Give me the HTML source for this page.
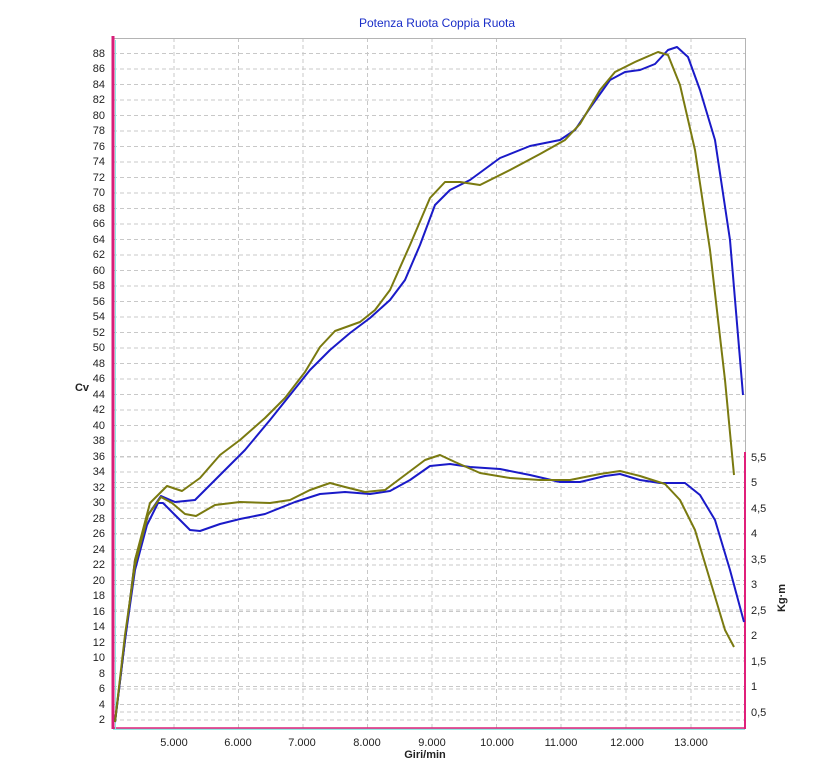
<!DOCTYPE html>
<html><head><style>body{margin:0;background:#fff}</style></head><body>
<svg width="819" height="762" xmlns="http://www.w3.org/2000/svg" font-family="Liberation Sans, sans-serif">
<rect width="819" height="762" fill="#fff"/>
<text x="437" y="27" text-anchor="middle" font-size="12" fill="#1a2ec8">Potenza Ruota Coppia Ruota</text>
<g stroke="#c8c8c8" stroke-dasharray="4,3" stroke-width="1">
<line x1="113" x2="745" y1="53.5" y2="53.5"/><line x1="113" x2="745" y1="69" y2="69"/><line x1="113" x2="745" y1="84.5" y2="84.5"/><line x1="113" x2="745" y1="100" y2="100"/><line x1="113" x2="745" y1="115.5" y2="115.5"/><line x1="113" x2="745" y1="131" y2="131"/><line x1="113" x2="745" y1="146.5" y2="146.5"/><line x1="113" x2="745" y1="162" y2="162"/><line x1="113" x2="745" y1="177.5" y2="177.5"/><line x1="113" x2="745" y1="193" y2="193"/><line x1="113" x2="745" y1="208.5" y2="208.5"/><line x1="113" x2="745" y1="224" y2="224"/><line x1="113" x2="745" y1="239.5" y2="239.5"/><line x1="113" x2="745" y1="255" y2="255"/><line x1="113" x2="745" y1="270.5" y2="270.5"/><line x1="113" x2="745" y1="286" y2="286"/><line x1="113" x2="745" y1="301.5" y2="301.5"/><line x1="113" x2="745" y1="317" y2="317"/><line x1="113" x2="745" y1="332.5" y2="332.5"/><line x1="113" x2="745" y1="348" y2="348"/><line x1="113" x2="745" y1="363.5" y2="363.5"/><line x1="113" x2="745" y1="379" y2="379"/><line x1="113" x2="745" y1="394.5" y2="394.5"/><line x1="113" x2="745" y1="410" y2="410"/><line x1="113" x2="745" y1="425.5" y2="425.5"/><line x1="113" x2="745" y1="441" y2="441"/><line x1="113" x2="745" y1="456.5" y2="456.5"/><line x1="113" x2="745" y1="472" y2="472"/><line x1="113" x2="745" y1="487.5" y2="487.5"/><line x1="113" x2="745" y1="503" y2="503"/><line x1="113" x2="745" y1="518.5" y2="518.5"/><line x1="113" x2="745" y1="534" y2="534"/><line x1="113" x2="745" y1="549.5" y2="549.5"/><line x1="113" x2="745" y1="565" y2="565"/><line x1="113" x2="745" y1="580.5" y2="580.5"/><line x1="113" x2="745" y1="596" y2="596"/><line x1="113" x2="745" y1="611.5" y2="611.5"/><line x1="113" x2="745" y1="627" y2="627"/><line x1="113" x2="745" y1="642.5" y2="642.5"/><line x1="113" x2="745" y1="658" y2="658"/><line x1="113" x2="745" y1="673.5" y2="673.5"/><line x1="113" x2="745" y1="689" y2="689"/><line x1="113" x2="745" y1="704.5" y2="704.5"/><line x1="113" x2="745" y1="720" y2="720"/>
<line x1="113" x2="745" y1="457" y2="457"/><line x1="113" x2="745" y1="482.5" y2="482.5"/><line x1="113" x2="745" y1="508" y2="508"/><line x1="113" x2="745" y1="533.5" y2="533.5"/><line x1="113" x2="745" y1="559" y2="559"/><line x1="113" x2="745" y1="584.5" y2="584.5"/><line x1="113" x2="745" y1="610" y2="610"/><line x1="113" x2="745" y1="635.5" y2="635.5"/><line x1="113" x2="745" y1="661" y2="661"/><line x1="113" x2="745" y1="686.5" y2="686.5"/><line x1="113" x2="745" y1="712" y2="712"/>
<line x1="174" x2="174" y1="38" y2="728"/><line x1="238.5" x2="238.5" y1="38" y2="728"/><line x1="303" x2="303" y1="38" y2="728"/><line x1="367.5" x2="367.5" y1="38" y2="728"/><line x1="432" x2="432" y1="38" y2="728"/><line x1="496.5" x2="496.5" y1="38" y2="728"/><line x1="561" x2="561" y1="38" y2="728"/><line x1="626" x2="626" y1="38" y2="728"/><line x1="691" x2="691" y1="38" y2="728"/>
</g>
<line x1="113" x2="745" y1="38.5" y2="38.5" stroke="#b4b4b4"/>
<line x1="745.5" x2="745.5" y1="38" y2="452" stroke="#b4b4b4"/>
<line x1="113" x2="745" y1="729" y2="729" stroke="#8ee8e0" stroke-width="2"/>
<line x1="113" x2="745" y1="728" y2="728" stroke="#e0207a" stroke-width="1.5"/>
<line x1="113" x2="113" y1="36" y2="729" stroke="#d81e78" stroke-width="3"/>
<line x1="115.5" x2="115.5" y1="40" y2="729" stroke="#8ee8e0" stroke-width="1"/>
<line x1="745" x2="745" y1="452" y2="729" stroke="#e0207a" stroke-width="2"/>
<g font-size="11" fill="#222" text-anchor="end">
<text x="105" y="57">88</text><text x="105" y="72">86</text><text x="105" y="88">84</text><text x="105" y="103">82</text><text x="105" y="119">80</text><text x="105" y="134">78</text><text x="105" y="150">76</text><text x="105" y="165">74</text><text x="105" y="181">72</text><text x="105" y="196">70</text><text x="105" y="212">68</text><text x="105" y="227">66</text><text x="105" y="243">64</text><text x="105" y="258">62</text><text x="105" y="274">60</text><text x="105" y="289">58</text><text x="105" y="305">56</text><text x="105" y="320">54</text><text x="105" y="336">52</text><text x="105" y="351">50</text><text x="105" y="367">48</text><text x="105" y="382">46</text><text x="105" y="398">44</text><text x="105" y="413">42</text><text x="105" y="429">40</text><text x="105" y="444">38</text><text x="105" y="460">36</text><text x="105" y="475">34</text><text x="105" y="491">32</text><text x="105" y="506">30</text><text x="105" y="522">28</text><text x="105" y="537">26</text><text x="105" y="553">24</text><text x="105" y="568">22</text><text x="105" y="584">20</text><text x="105" y="599">18</text><text x="105" y="615">16</text><text x="105" y="630">14</text><text x="105" y="646">12</text><text x="105" y="661">10</text><text x="105" y="677">8</text><text x="105" y="692">6</text><text x="105" y="708">4</text><text x="105" y="723">2</text>
</g>
<g font-size="11" fill="#222">
<text x="751" y="461">5,5</text><text x="751" y="486">5</text><text x="751" y="512">4,5</text><text x="751" y="537">4</text><text x="751" y="563">3,5</text><text x="751" y="588">3</text><text x="751" y="614">2,5</text><text x="751" y="639">2</text><text x="751" y="665">1,5</text><text x="751" y="690">1</text><text x="751" y="716">0,5</text>
</g>
<g font-size="11" fill="#222" text-anchor="middle">
<text x="174" y="746">5.000</text><text x="238" y="746">6.000</text><text x="302" y="746">7.000</text><text x="367" y="746">8.000</text><text x="432" y="746">9.000</text><text x="497" y="746">10.000</text><text x="561" y="746">11.000</text><text x="627" y="746">12.000</text><text x="691" y="746">13.000</text>
</g>
<text x="425" y="758" font-size="11" font-weight="bold" text-anchor="middle" fill="#222">Giri/min</text>
<text x="82" y="391" font-size="11" font-weight="bold" text-anchor="middle" fill="#222">Cv</text>
<text x="0" y="0" font-size="11" font-weight="bold" text-anchor="middle" fill="#222" transform="translate(785,598) rotate(-90)">Kg·m</text>
<g fill="none" stroke-width="2" stroke-linejoin="round">
<polyline stroke="#1a1ac8" points="115,722 125,640 135,560 148,515 161,496 175,502 195,500 215,480 245,450 270,420 290,395 310,370 330,350 350,333 370,318 390,300 405,280 420,245 435,205 450,190 470,180 500,158 530,146 560,140 575,130 590,108 610,80 625,72 640,70 655,64 668,50 677,47 688,57 700,90 715,140 730,240 743,395"/>
<polyline stroke="#7a7a10" points="115,722 125,640 135,560 150,503 167,486 182,491 200,478 220,455 240,440 265,418 285,398 305,372 320,347 335,331 360,322 375,310 390,290 410,245 430,198 445,182 460,182 480,185 510,170 540,154 565,140 580,124 600,90 615,72 635,62 658,52 668,55 680,85 695,150 710,250 725,380 734,475"/>
<polyline stroke="#1a1ac8" points="115,722 125,640 135,570 147,525 158,503 163,503 175,515 190,530 200,531 220,524 240,519 265,514 295,502 320,494 345,492 370,494 390,491 410,480 430,466 450,464 470,467 500,469 530,475 560,482 580,482 605,476 620,474 640,480 660,483 685,483 700,495 715,520 730,570 744,622"/>
<polyline stroke="#7a7a10" points="115,722 125,635 135,565 148,515 161,497 172,503 185,514 196,516 215,505 240,502 270,503 290,500 310,490 330,483 345,487 365,492 385,490 405,475 425,460 440,455 455,462 480,473 510,478 540,480 570,480 600,474 620,471 640,476 665,484 680,500 695,530 710,580 725,630 734,647"/>
</g>
</svg>
</body></html>
